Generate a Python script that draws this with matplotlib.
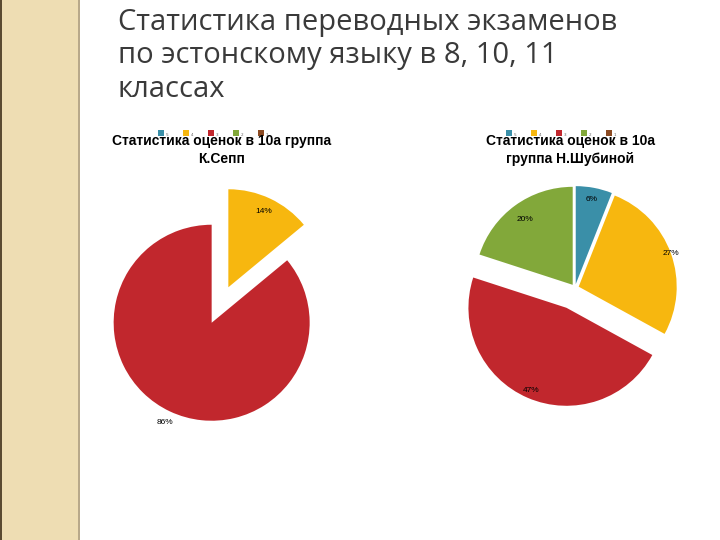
import matplotlib.pyplot as plt
from matplotlib.patches import Rectangle, Circle
import numpy as np

# Data
grades = ["5", "4", "3", "2", "1"]
colors = ["#3A8FA8", "#F7B70F", "#C1272D", "#82A83A", "#8B4A22"]

left_values = [0, 14, 86, 0, 0]
left_title = "Статистика оценок в 10а группа\nК.Сепп"
right_values = [6, 27, 47, 20, 0]
right_title = "Статистика оценок в 10а\nгруппа Н.Шубиной"

slide_title = "Статистика переводных экзаменов\nпо эстонскому языку в 8, 10, 11\nклассах"

W, H = 720, 540
fig = plt.figure(figsize=(7.2, 5.4), dpi=100)
fig.patch.set_facecolor("white")

# beige side strip
fig.patches.append(Rectangle((0, 0), 78 / W, 1, transform=fig.transFigure,
                             facecolor="#EEDDB3", edgecolor="none", zorder=0))
fig.patches.append(Rectangle((0, 0), 2 / W, 1, transform=fig.transFigure,
                             facecolor="#5A4A32", edgecolor="none", zorder=1))
fig.patches.append(Rectangle((78 / W, 0), 1.5 / W, 1, transform=fig.transFigure,
                             facecolor="#B8A88A", edgecolor="none", zorder=1))
deco = fig.add_axes([0, 0, 78 / W, 1])
deco.set_xlim(0, 78)
deco.set_ylim(540, 0)
deco.axis("off")
deco.add_patch(Circle((65, 25), 55, facecolor="#F6EEDA", edgecolor="#FBF6EA", lw=1.5, alpha=0.8))
deco.add_patch(Circle((75, 122), 50, facecolor="none", edgecolor="#DDD0B0", lw=7, alpha=0.8))

fig.text(118 / W, 1 - 8 / H, slide_title, fontsize=21, family="Open Sans",
         color="#3A3A3A", va="top", ha="left", linespacing=1.2)


def draw_pie(box, values, explode, title, title_xy, label_dist):
    ax = fig.add_axes(box)
    keep = [i for i, v in enumerate(values) if v > 0]
    vals = [values[i] for i in keep]
    cols = [colors[i] for i in keep]
    wedges, _ = ax.pie(vals, colors=cols, startangle=90, counterclock=False,
                       explode=[explode[i] for i in keep],
                       wedgeprops=dict(linewidth=0))
    for w, v, d in zip(wedges, vals, [label_dist[i] for i in keep]):
        ang = np.deg2rad((w.theta1 + w.theta2) / 2)
        cx, cy = w.center
        ax.text(cx + d * np.cos(ang), cy + d * np.sin(ang), f"{v}%",
                fontsize=6, ha="center", va="center", family="Liberation Sans")
    ax.set_xlim(-1.25, 1.25)
    ax.set_ylim(-1.25, 1.25)
    ax.set_aspect("equal")
    ax.axis("off")
    fig.text(title_xy[0] / W, 1 - title_xy[1] / H, title, fontsize=10,
             weight="bold", family="Liberation Sans", ha="center", va="center",
             linespacing=1.3)
    # tiny legend just above the title
    lx = title_xy[0] - 64
    ly = title_xy[1] - 14
    for i, g in enumerate(grades):
        fig.patches.append(Rectangle(((lx + i * 25) / W, 1 - ly / H),
                                     6 / W, 6 / H, transform=fig.transFigure,
                                     facecolor=colors[i], edgecolor="none"))
        fig.text((lx + i * 25 + 8) / W, 1 - ly / H, g, fontsize=3,
                 color="#666666")


r = 98
draw_pie([(220 - 1.25 * r) / W, 1 - (305 + 1.25 * r) / H, 2.5 * r / W, 2.5 * r / H],
         left_values, [0, 0.2, 0.2, 0, 0], left_title, (222, 150),
         [0, 0.85, 1.12, 0, 0])
draw_pie([(575 - 1.25 * r) / W, 1 - (288 + 1.25 * r) / H, 2.5 * r / W, 2.5 * r / H],
         right_values, [0.04, 0.04, 0.22, 0.04, 0], right_title, (570, 150),
         [0.88, 1.0, 0.92, 0.82, 0])

fig.savefig("out.png", dpi=100)
